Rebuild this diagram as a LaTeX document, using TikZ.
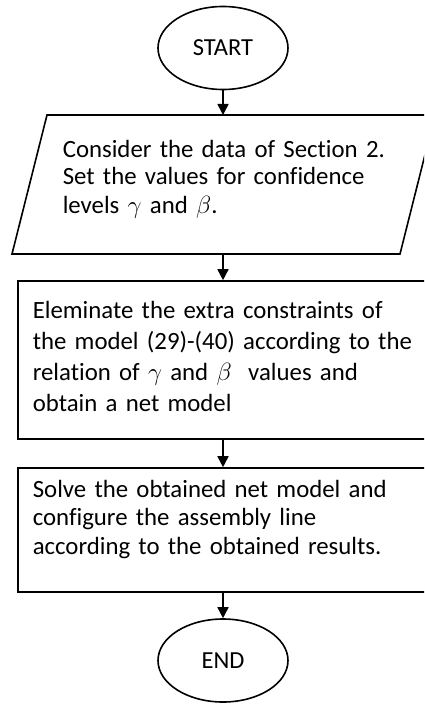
\documentclass[tikz,border=0pt]{standalone}
\usepackage{fontspec}
\setmainfont{Carlito}[Ligatures=NoCommon]
\usetikzlibrary{arrows.meta,shapes.geometric}
\begin{document}
\begin{tikzpicture}[x=1pt,y=-1pt,
  line width=1.6pt,
  term/.style={draw,ellipse,minimum width=130pt,minimum height=83pt,inner sep=0pt,
    font=\fontsize{24.5}{28}\selectfont},
  boxnode/.style={draw,rectangle,inner sep=0pt,minimum width=410pt},
  txt/.style={anchor=base west,align=left,inner sep=0pt,text width=400pt},
  flow/.style={-{Triangle[length=11pt,width=11pt]}},
]
\useasboundingbox (0,0) rectangle (424,706);
\clip (0,0) rectangle (424,706);

% START
\node[term] (start) at (223,48) {START};

% parallelogram
\coordinate (pTL) at (47,115);
\coordinate (pTR) at (435,115);
\coordinate (pBR) at (400,254);
\coordinate (pBL) at (12,254);
\coordinate (pTop) at (223,115);
\coordinate (pBot) at (223,254);
\draw (pTL) -- (pTR) -- (pBR) -- (pBL) -- cycle;
\node[txt,font=\fontsize{24.8}{28}\selectfont] (ptext) at (62,157)
  {Consider the data of Section 2.\\Set the values for confidence\\levels $\gamma$ and $\beta$.};

% box 1
\node[boxnode,minimum height=158pt] (box1) at (223,360) {};
\node[txt,font=\fontsize{24.8}{31}\selectfont] (t1) at (32,318)
  {Eleminate the extra constraints of\\the model (29)-(40) according to the\\relation of $\gamma$ and $\beta$\ \ values and\\obtain a net model};

% box 2
\node[boxnode,minimum height=124pt] (box2) at (223,530) {};
\node[txt,font=\fontsize{24.8}{28.5}\selectfont] (t2) at (32,497)
  {Solve the obtained net model and\\configure the assembly line\\according to the obtained results.};

% END
\node[term] (end) at (223,660.5) {END};

% connectors
\draw[flow] (start) -- (pTop);
\draw[flow] (pBot) -- (box1);
\draw[flow] (box1) -- (box2);
\draw[flow] (box2) -- (end);
\end{tikzpicture}
\end{document}
